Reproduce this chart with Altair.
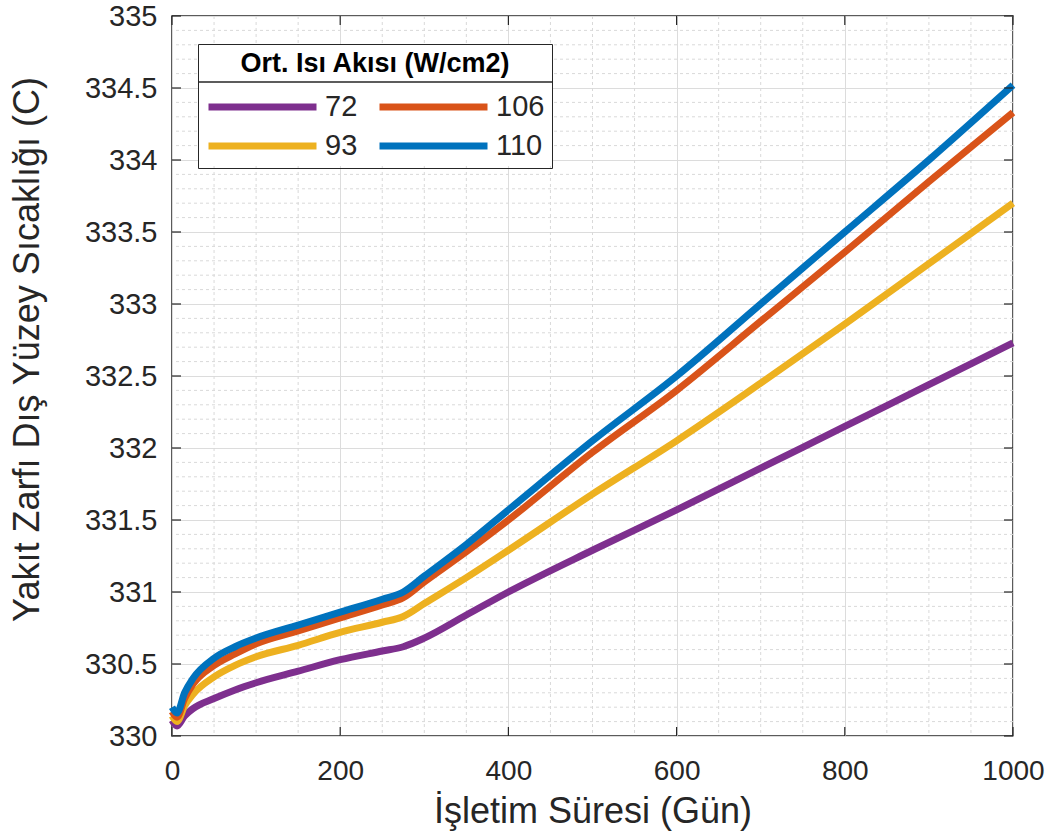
import altair as alt
import pandas as pd

# Operating time (days) at which the surface temperature was sampled
days = [0, 6, 15, 25, 50, 75, 100, 150, 200, 250, 275, 300, 350, 400, 500, 600, 700, 800, 900, 1000]

# Mean heat flux cases (W/cm2) and their outer cladding surface temperatures (C)
flux_labels = ["72", "93", "106", "110"]
temp_72 = [330.11, 330.07, 330.14, 330.19, 330.26, 330.32, 330.37, 330.45, 330.53, 330.59,
           330.62, 330.68, 330.84, 331.00, 331.29, 331.57, 331.86, 332.15, 332.44, 332.73]
temp_93 = [330.14, 330.10, 330.21, 330.29, 330.41, 330.49, 330.55, 330.63, 330.72, 330.79,
           330.83, 330.92, 331.10, 331.29, 331.68, 332.05, 332.45, 332.86, 333.28, 333.70]
temp_106 = [330.17, 330.13, 330.26, 330.36, 330.49, 330.57, 330.64, 330.73, 330.82, 330.91,
            330.96, 331.07, 331.28, 331.50, 331.97, 332.40, 332.88, 333.36, 333.85, 334.33]
temp_110 = [330.20, 330.16, 330.30, 330.40, 330.54, 330.62, 330.68, 330.77, 330.86, 330.95,
            331.00, 331.11, 331.33, 331.57, 332.05, 332.50, 333.00, 333.50, 334.00, 334.52]
line_colors = ["#7E2F8E", "#EDB120", "#D95319", "#0072BD"]
legend_order = ["72", "106", "93", "110"]

# Axis ticks and grid positions
x_major = [0, 200, 400, 600, 800, 1000]
y_major = [330, 330.5, 331, 331.5, 332, 332.5, 333, 333.5, 334, 334.5, 335]
x_minor = [d for d in range(50, 1000, 50) if d % 200]
y_minor = [round(330 + i * 0.1, 1) for i in range(1, 50) if i % 5]

W, H = 841, 720
FONT = "Liberation Sans"
INK = "#262626"

rows = []
for label, temps in zip(flux_labels, [temp_72, temp_93, temp_106, temp_110]):
    for d, t in zip(days, temps):
        rows.append({"gun": d, "sicaklik": t, "aki": label})
df = pd.DataFrame(rows)

x_scale = alt.Scale(domain=[0, 1000], nice=False, zero=False)
y_scale = alt.Scale(domain=[330, 335], nice=False, zero=False)

minor_x = alt.Chart(pd.DataFrame({"gx": x_minor})).mark_rule(
    color="#d9d9d9", strokeWidth=1, strokeDash=[3, 3]
).encode(x=alt.X("gx:Q", scale=x_scale))

minor_y = alt.Chart(pd.DataFrame({"gy": y_minor})).mark_rule(
    color="#d9d9d9", strokeWidth=1, strokeDash=[3, 3]
).encode(y=alt.Y("gy:Q", scale=y_scale))

lines = alt.Chart(df).mark_line(strokeWidth=7, interpolate="monotone").encode(
    x=alt.X(
        "gun:Q",
        scale=x_scale,
        axis=alt.Axis(
            values=x_major, grid=True, gridColor="#dcdcdc", ticks=False, domain=False,
            labelFont=FONT, labelFontSize=28, labelColor=INK, labelPadding=21,
            labelFlush=False, labelOverlap=False, format="d",
            title="İşletim Süresi (Gün)", titleFont=FONT, titleFontSize=36,
            titleFontWeight="normal", titleColor=INK, titleY=75, titleBaseline="middle",
        ),
    ),
    y=alt.Y(
        "sicaklik:Q",
        scale=y_scale,
        axis=alt.Axis(
            values=y_major, grid=True, gridColor="#dcdcdc", ticks=False, domain=False,
            labelFont=FONT, labelFontSize=29, labelColor=INK, labelPadding=15,
            labelFlush=False, labelOverlap=False, format="~g",
            title="Yakıt Zarfı Dış Yüzey Sıcaklığı (C)", titleFont=FONT, titleFontSize=36,
            titleFontWeight="normal", titleColor=INK, titleX=-145, titleY=333,
            titleBaseline="middle", titleAngle=270,
        ),
    ),
    color=alt.Color(
        "aki:N",
        sort=flux_labels,
        scale=alt.Scale(domain=flux_labels, range=line_colors),
        legend=alt.Legend(
            title="Ort. Isı Akısı (W/cm2)", values=legend_order, orient="none",
            legendX=26, legendY=28, columns=2, direction="horizontal",
            symbolType="stroke", symbolSize=11664, symbolStrokeWidth=7, clipHeight=22,
            labelFont=FONT, labelFontSize=29, labelColor=INK, labelOffset=5,
            titleFont=FONT, titleFontSize=27, titleFontWeight="bold", titleColor="#000000",
            titleAnchor="middle", titlePadding=18, titleLimit=600,
            strokeColor=INK, padding=7, rowPadding=10, columnPadding=18,
        ),
    ),
    order=alt.Order("gun:Q"),
)

# White backing for the legend box and the separator under its title
legend_back = alt.Chart(pd.DataFrame({"k": [0]})).mark_rect(color="white").encode(
    x=alt.value(26), x2=alt.value(381), y=alt.value(28), y2=alt.value(150)
)
legend_rule = alt.Chart(pd.DataFrame({"k": [0]})).mark_rule(color=INK, strokeWidth=1.5).encode(
    x=alt.value(26), x2=alt.value(381), y=alt.value(66)
)

# Inward ticks on all four sides of the box
tx = pd.DataFrame({"t": x_major})
ty = pd.DataFrame({"t": y_major})
tick_style = dict(color=INK, strokeWidth=1.2)
ticks_bottom = alt.Chart(tx).mark_rule(**tick_style).encode(
    x=alt.X("t:Q", scale=x_scale), y=alt.value(H), y2=alt.value(H - 9))
ticks_top = alt.Chart(tx).mark_rule(**tick_style).encode(
    x=alt.X("t:Q", scale=x_scale), y=alt.value(0), y2=alt.value(9))
ticks_left = alt.Chart(ty).mark_rule(**tick_style).encode(
    y=alt.Y("t:Q", scale=y_scale), x=alt.value(0), x2=alt.value(9))
ticks_right = alt.Chart(ty).mark_rule(**tick_style).encode(
    y=alt.Y("t:Q", scale=y_scale), x=alt.value(W), x2=alt.value(W - 9))

chart = alt.layer(
    minor_x, minor_y, legend_back, lines, ticks_bottom, ticks_top, ticks_left, ticks_right,
    legend_rule
).properties(
    width=W, height=H,
    autosize=alt.AutoSizeParams(type="none"),
    padding={"left": 172, "top": 16, "right": 1058 - 172 - W, "bottom": 835 - 16 - H},
    background="white",
).configure_view(stroke=INK, strokeWidth=1.5)

chart.save("out.html", embed_options={"renderer": "svg", "actions": False})
